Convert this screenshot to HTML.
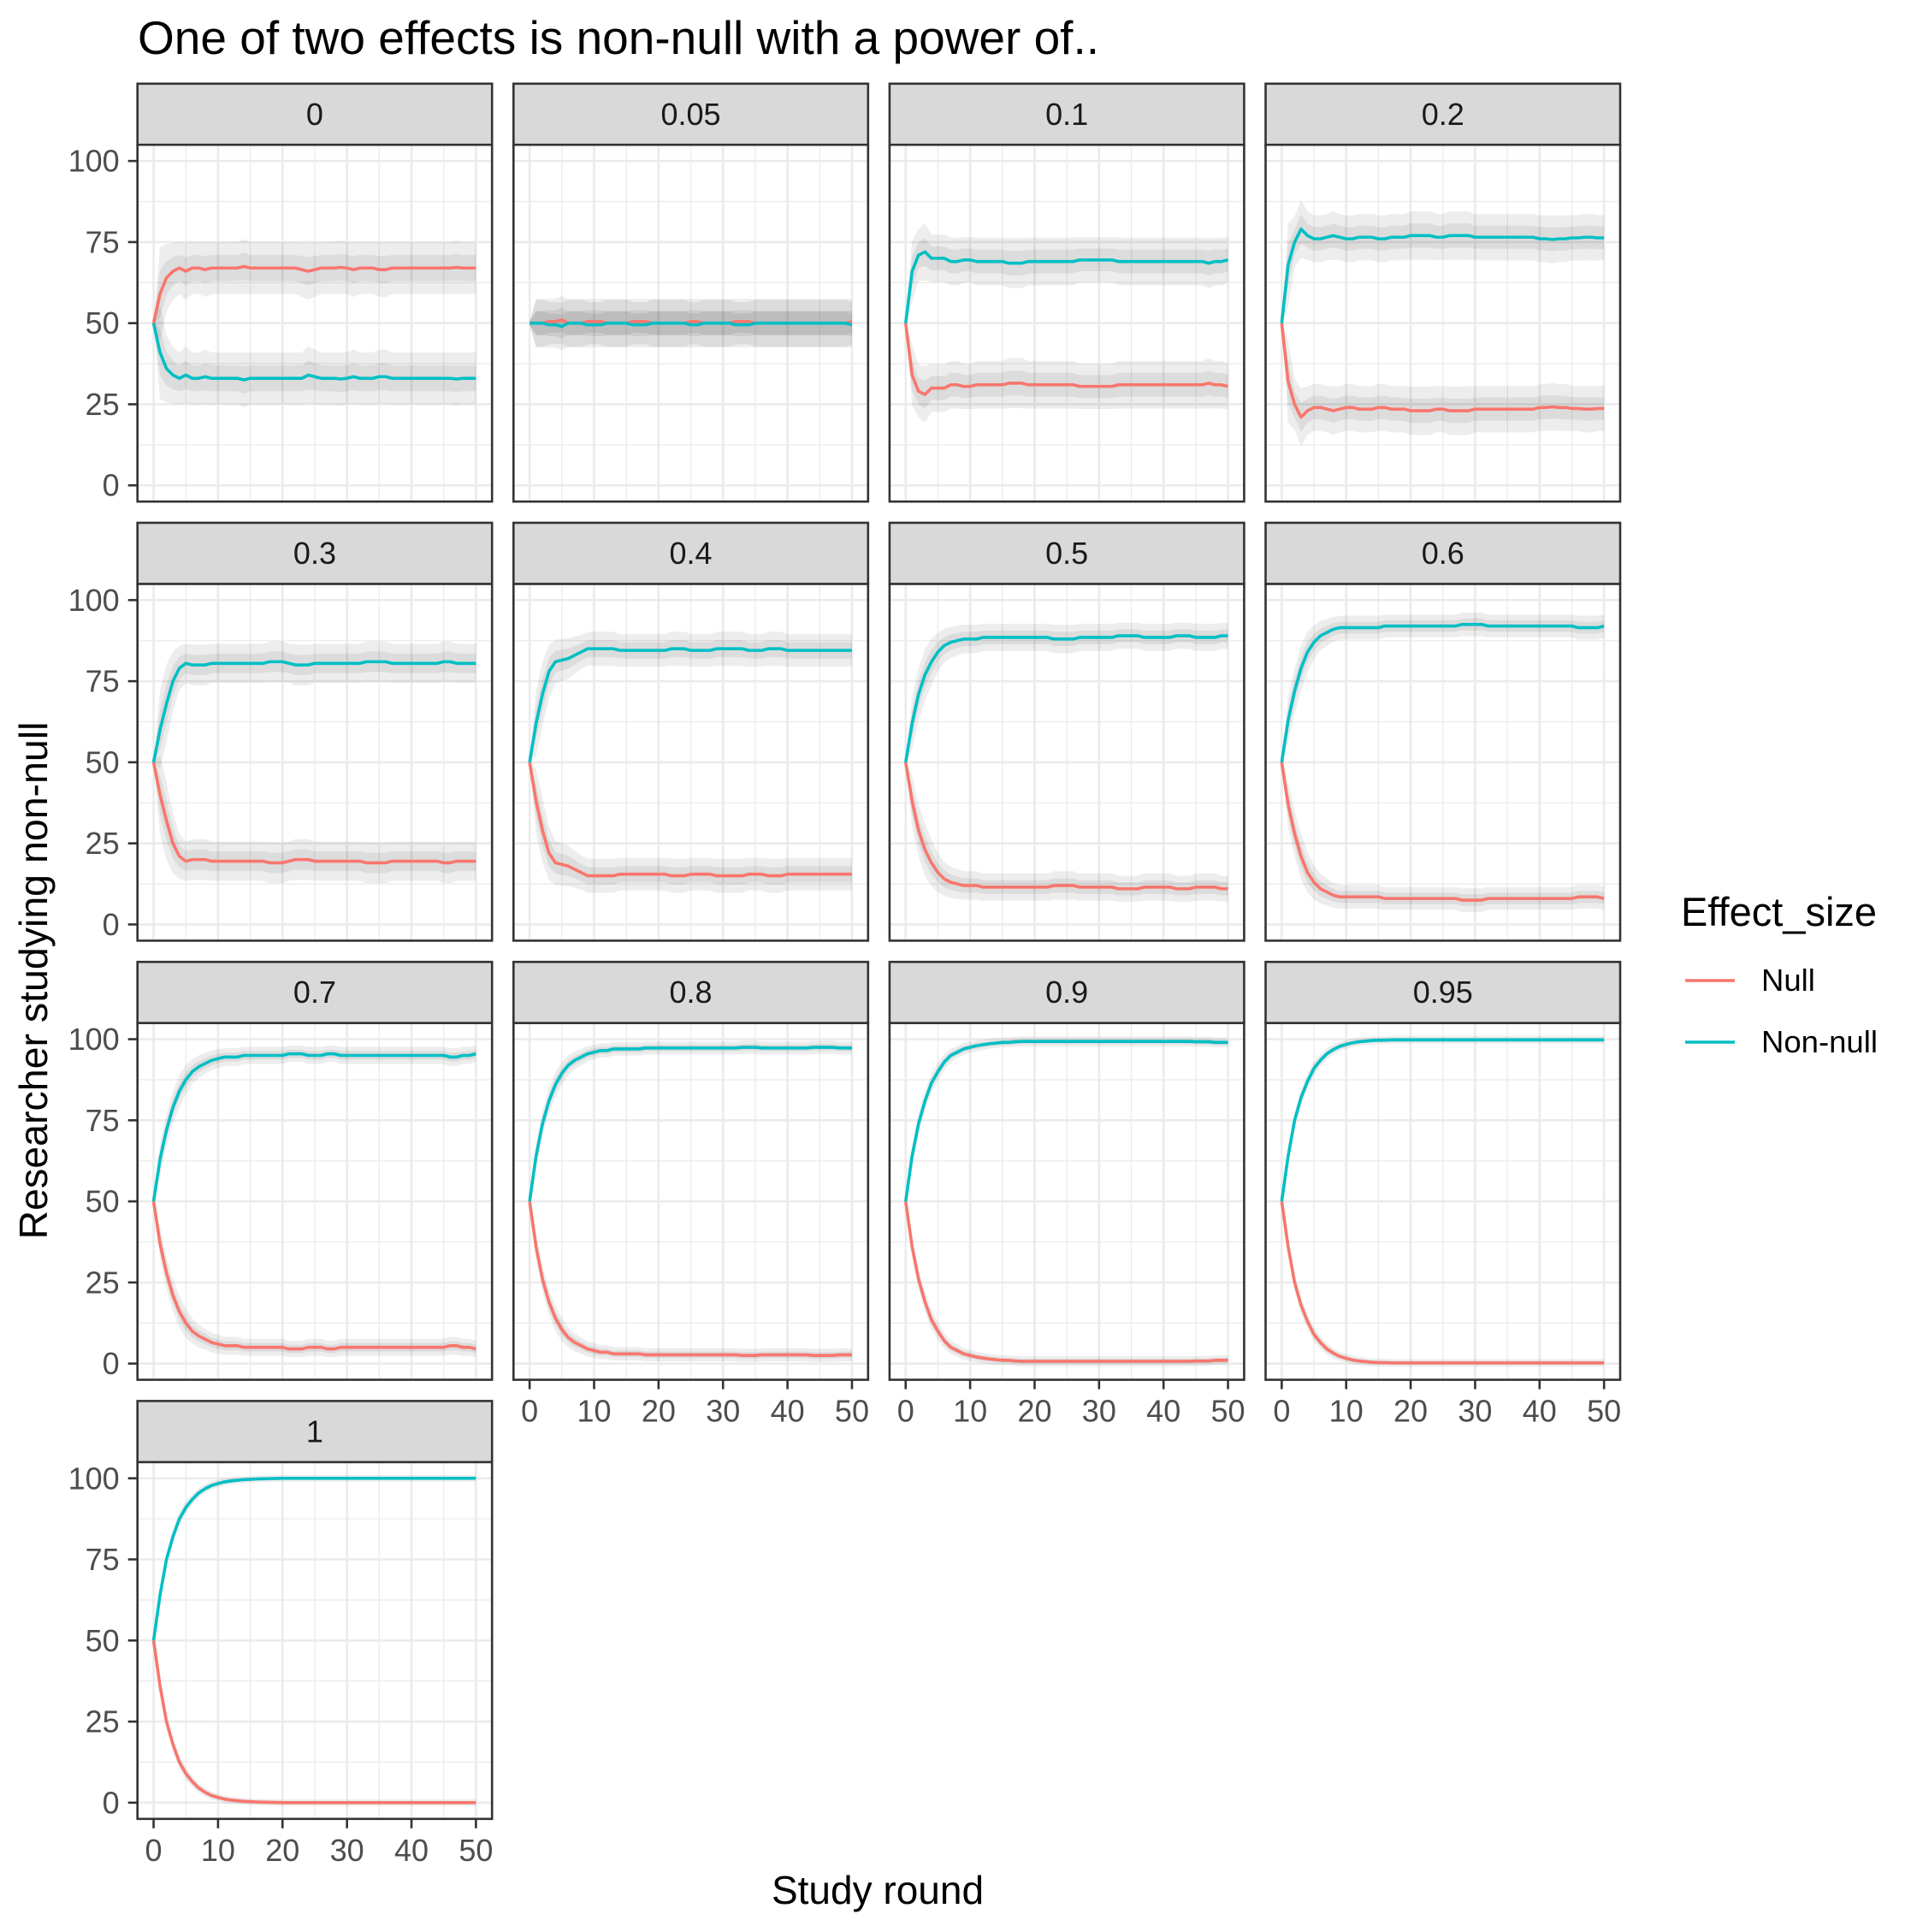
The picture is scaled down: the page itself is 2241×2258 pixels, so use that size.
<!DOCTYPE html>
<html><head><meta charset="utf-8"><style>
html,body{margin:0;padding:0;background:#fff;}
svg{display:block;font-family:"Liberation Sans",Arial,sans-serif;}
</style></head><body>
<svg id="chart" width="2241" height="2258" viewBox="0 0 2241 2258" xmlns="http://www.w3.org/2000/svg">
<rect width="2241" height="2258" fill="#fff"/>
<text x="161" y="63" font-size="55" fill="#000">One of two effects is non-null with a power of..</text>
<text x="1026" y="2225" font-size="46" fill="#000" text-anchor="middle">Study round</text>
<text transform="translate(55,1146) rotate(-90)" font-size="46.5" fill="#000" text-anchor="middle">Researcher studying non-null</text>
<g>
<text x="1965" y="1082" font-size="47" fill="#000">Effect_size</text>
<line x1="1970" x2="2028" y1="1146" y2="1146" stroke="#F8766D" stroke-width="3.5"/>
<text x="2059" y="1158" font-size="36.5" fill="#000">Null</text>
<line x1="1970" x2="2028" y1="1218" y2="1218" stroke="#00BFC4" stroke-width="3.5"/>
<text x="2059" y="1230" font-size="36.5" fill="#000">Non-null</text>
</g>
<g id="panels"></g>
</svg>
<script>
const panelLabels = ["0","0.05","0.1","0.2","0.3","0.4","0.5","0.6","0.7","0.8","0.9","0.95","1"];
const xTicks = [0,10,20,30,40,50];
const yTicks = [0,25,50,75,100];
const spread = [8,7,7,7,6,5,4,3.5,2.5,2,1.5,1.2,1];
const nonNull = [
[50,41,36,34,33,34,33,33,33.5,33,33,33,33,33,32.5,33,33,33,33,33,33,33,33,33,34,33.5,33,33,33,32.8,33,33.5,33,33,33,33.5,33.5,33,33,33,33,33,33,33,33,33,33,32.8,33,33,33],
[50,50,50,49.5,49.5,49,50,50,50,49.5,49.5,49.5,50,50,50,50,49.5,49.5,49.5,50,50,50,50,50,50,49.5,49.5,50,50,50,50,50,49.5,49.5,49.5,50,50,50,50,50,50,50,50,50,50,50,50,50,50,50,49.5],
[50,66,71,72,70,70,70,69,69,69.5,69.5,69,69,69,69,69,68.5,68.5,68.5,69,69,69,69,69,69,69,69,69.5,69.5,69.5,69.5,69.5,69.5,69,69,69,69,69,69,69,69,69,69,69,69,69,69,68.5,69,69,69.5],
[50,68,75,79,77,76,76,76.5,77,76.5,76,76,76.5,76.5,76.5,76,76,76.5,76.5,76.5,77,77,77,77,76.5,76.5,77,77,77,77,76.5,76.5,76.5,76.5,76.5,76.5,76.5,76.5,76.5,76.5,76,76,75.8,76,76,76.3,76.3,76.5,76.5,76.3,76.3],
[50,60,68,75,79,80.5,80,80,80,80.5,80.5,80.5,80.5,80.5,80.5,80.5,80.5,80.5,81,81,81,80.5,80,80,80,80.5,80.5,80.5,80.5,80.5,80.5,80.5,80.5,81,81,81,81,80.5,80.5,80.5,80.5,80.5,80.5,80.5,80.5,81,81,80.5,80.5,80.5,80.5],
[50,62,71,78,81,81.5,82,83,84,85,85,85,85,85,84.5,84.5,84.5,84.5,84.5,84.5,84.5,84.5,85,85,85,84.5,84.5,84.5,84.5,85,85,85,85,85,84.5,84.5,84.5,85,85,85,84.5,84.5,84.5,84.5,84.5,84.5,84.5,84.5,84.5,84.5,84.5],
[50,62,71,77,81,84,86,87,87.5,88,88,88,88.5,88.5,88.5,88.5,88.5,88.5,88.5,88.5,88.5,88.5,88.5,88,88,88,88,88.5,88.5,88.5,88.5,88.5,88.5,89,89,89,89,88.5,88.5,88.5,88.5,88.5,89,89,89,88.5,88.5,88.5,88.5,89,89],
[50,63,72,79,84,87,89,90,91,91.5,91.5,91.5,91.5,91.5,91.5,91.5,92,92,92,92,92,92,92,92,92,92,92,92,92.5,92.5,92.5,92.5,92,92,92,92,92,92,92,92,92,92,92,92,92,92,91.5,91.5,91.5,91.5,92],
[50,63,72,79,84,87.5,90,91.5,92.5,93.5,94,94.5,94.5,94.5,95,95,95,95,95,95,95,95.5,95.5,95.5,95,95,95,95.5,95.5,95,95,95,95,95,95,95,95,95,95,95,95,95,95,95,95,95,94.5,94.5,95,95,95.5],
[50,64,74,81,86,89.5,92,93.5,94.5,95.5,96,96.5,96.5,97,97,97,97,97,97.3,97.3,97.3,97.3,97.3,97.3,97.3,97.3,97.3,97.3,97.3,97.3,97.3,97.3,97.3,97.5,97.5,97.5,97.3,97.3,97.3,97.3,97.3,97.3,97.3,97.3,97.5,97.5,97.5,97.5,97.3,97.3,97.3],
[50,64,74,81,86.5,90,93,95,96,97,97.5,98,98.3,98.6,98.8,99,99,99.2,99.3,99.3,99.3,99.3,99.3,99.3,99.3,99.3,99.3,99.3,99.3,99.3,99.3,99.3,99.3,99.3,99.3,99.3,99.3,99.3,99.3,99.3,99.3,99.3,99.3,99.3,99.3,99.2,99.2,99.2,99,99,99],
[50,64,75,82,87,91,93.5,95.5,96.8,97.8,98.4,98.9,99.2,99.4,99.6,99.7,99.7,99.8,99.8,99.8,99.8,99.8,99.8,99.8,99.8,99.8,99.8,99.8,99.8,99.8,99.8,99.8,99.8,99.8,99.8,99.8,99.8,99.8,99.8,99.8,99.8,99.8,99.8,99.8,99.8,99.8,99.8,99.8,99.8,99.8,99.8],
[50,64,75,82,87.5,91,93.5,95.5,96.8,97.8,98.4,98.9,99.2,99.4,99.6,99.7,99.8,99.85,99.9,99.95,100,100,100,100,100,100,100,100,100,100,100,100,100,100,100,100,100,100,100,100,100,100,100,100,100,100,100,100,100,100,100]
];
const nullSeries = [
[50,59,64,66,67,66,67,67,66.5,67,67,67,67,67,67.5,67,67,67,67,67,67,67,67,66.5,66,66.5,67,67,67,67.2,67,66.5,67,67,67,66.5,66.5,67,67,67,67,67,67,67,67,67,67,67.2,67,67,67],
[50,50,50,50.5,50.5,51,50,50,50,50.5,50.5,50.5,50,50,50,50,50.5,50.5,50.5,50,50,50,50,50,50,50.5,50.5,50,50,50,50,50,50.5,50.5,50.5,50,50,50,50,50,50,50,50,50,50,50,50,50,50,50,50.5],
[50,34,29,28,30,30,30,31,31,30.5,30.5,31,31,31,31,31,31.5,31.5,31.5,31,31,31,31,31,31,31,31,30.5,30.5,30.5,30.5,30.5,30.5,31,31,31,31,31,31,31,31,31,31,31,31,31,31,31.5,31,31,30.5],
[50,32,25,21,23,24,24,23.5,23,23.5,24,24,23.5,23.5,23.5,24,24,23.5,23.5,23.5,23,23,23,23,23.5,23.5,23,23,23,23,23.5,23.5,23.5,23.5,23.5,23.5,23.5,23.5,23.5,23.5,24,24,24.2,24,24,23.7,23.7,23.5,23.5,23.7,23.7],
[50,40,32,25,21,19.5,20,20,20,19.5,19.5,19.5,19.5,19.5,19.5,19.5,19.5,19.5,19,19,19,19.5,20,20,20,19.5,19.5,19.5,19.5,19.5,19.5,19.5,19.5,19,19,19,19,19.5,19.5,19.5,19.5,19.5,19.5,19.5,19.5,19,19,19.5,19.5,19.5,19.5],
[50,38,29,22,19,18.5,18,17,16,15,15,15,15,15,15.5,15.5,15.5,15.5,15.5,15.5,15.5,15.5,15,15,15,15.5,15.5,15.5,15.5,15,15,15,15,15,15.5,15.5,15.5,15,15,15,15.5,15.5,15.5,15.5,15.5,15.5,15.5,15.5,15.5,15.5,15.5],
[50,38,29,23,19,16,14,13,12.5,12,12,12,11.5,11.5,11.5,11.5,11.5,11.5,11.5,11.5,11.5,11.5,11.5,12,12,12,12,11.5,11.5,11.5,11.5,11.5,11.5,11,11,11,11,11.5,11.5,11.5,11.5,11.5,11,11,11,11.5,11.5,11.5,11.5,11,11],
[50,37,28,21,16,13,11,10,9,8.5,8.5,8.5,8.5,8.5,8.5,8.5,8,8,8,8,8,8,8,8,8,8,8,8,7.5,7.5,7.5,7.5,8,8,8,8,8,8,8,8,8,8,8,8,8,8,8.5,8.5,8.5,8.5,8],
[50,37,28,21,16,12.5,10,8.5,7.5,6.5,6,5.5,5.5,5.5,5,5,5,5,5,5,5,4.5,4.5,4.5,5,5,5,4.5,4.5,5,5,5,5,5,5,5,5,5,5,5,5,5,5,5,5,5,5.5,5.5,5,5,4.5],
[50,36,26,19,14,10.5,8,6.5,5.5,4.5,4,3.5,3.5,3,3,3,3,3,2.7,2.7,2.7,2.7,2.7,2.7,2.7,2.7,2.7,2.7,2.7,2.7,2.7,2.7,2.7,2.5,2.5,2.5,2.7,2.7,2.7,2.7,2.7,2.7,2.7,2.7,2.5,2.5,2.5,2.5,2.7,2.7,2.7],
[50,36,26,19,13.5,10,7,5,4,3,2.5,2,1.7,1.4,1.2,1,1,0.8,0.7,0.7,0.7,0.7,0.7,0.7,0.7,0.7,0.7,0.7,0.7,0.7,0.7,0.7,0.7,0.7,0.7,0.7,0.7,0.7,0.7,0.7,0.7,0.7,0.7,0.7,0.7,0.8,0.8,0.8,1,1,1],
[50,36,25,18,13,9,6.5,4.5,3.2,2.2,1.6,1.1,0.8,0.6,0.4,0.3,0.3,0.2,0.2,0.2,0.2,0.2,0.2,0.2,0.2,0.2,0.2,0.2,0.2,0.2,0.2,0.2,0.2,0.2,0.2,0.2,0.2,0.2,0.2,0.2,0.2,0.2,0.2,0.2,0.2,0.2,0.2,0.2,0.2,0.2,0.2],
[50,36,25,18,12.5,9,6.5,4.5,3.2,2.2,1.6,1.1,0.8,0.6,0.4,0.3,0.2,0.15,0.1,0.05,0,0,0,0,0,0,0,0,0,0,0,0,0,0,0,0,0,0,0,0,0,0,0,0,0,0,0,0,0,0,0]
];

const NS = "http://www.w3.org/2000/svg";
const root = document.getElementById('panels');
const L0 = 160.7, CSTEP = 439.6, PW = 414.5, T0 = 97.8, RSTEP = 513.2, SH = 71.4, PH = 417;
function mk(tag, attrs, parent){ const e = document.createElementNS(NS, tag); for (const k in attrs) e.setAttribute(k, attrs[k]); parent.appendChild(e); return e; }

panelLabels.forEach((lab, i) => {
  const c = i % 4, r = Math.floor(i / 4);
  const left = L0 + c * CSTEP, stripTop = T0 + r * RSTEP, top = stripTop + SH, bottom = top + PH;
  const sx = v => left + (v + 2.5) / 55 * PW;
  const sy = v => bottom - (v + 5) / 110 * PH;
  const g = mk('g', {}, root);
  
  
  mk('rect', {x: left, y: top, width: PW, height: PH, fill: '#fff'}, g);
  [5,15,25,35,45].forEach(v => { mk('line', {x1: sx(v), x2: sx(v), y1: top, y2: bottom, stroke: '#EBEBEB', 'stroke-width': 1.3}, g); });
  [12.5,37.5,62.5,87.5].forEach(v => { mk('line', {x1: left, x2: left + PW, y1: sy(v), y2: sy(v), stroke: '#EBEBEB', 'stroke-width': 1.3}, g); });
  xTicks.forEach(v => { mk('line', {x1: sx(v), x2: sx(v), y1: top, y2: bottom, stroke: '#EBEBEB', 'stroke-width': 2.6}, g); });
  yTicks.forEach(v => { mk('line', {x1: left, x2: left + PW, y1: sy(v), y2: sy(v), stroke: '#EBEBEB', 'stroke-width': 2.6}, g); });
  const s = spread[i];
  [nonNull[i], nullSeries[i]].forEach((arr, k) => {
    [1, 0.5].forEach(f => {
      let up = [], dn = [];
      arr.forEach((v, x) => {
        const w = x === 0 ? 0.5 : s * f * (1 + Math.min(1, Math.abs(v - arr[arr.length - 1]) / 10));
        up.push(sx(x) + ',' + sy(Math.min(101, v + w)));
        dn.unshift(sx(x) + ',' + sy(Math.max(-1, v - w)));
      });
      const p = mk('polygon', {points: up.concat(dn).join(' '), fill: '#000', 'fill-opacity': 0.07}, g);
      
      
    });
  });
  [[nullSeries[i], '#F8766D', 'null-line-'], [nonNull[i], '#00BFC4', 'non-null-line-']].forEach(([arr, col, nm]) => {
    const pl = mk('polyline', {points: arr.map((v, x) => sx(x) + ',' + sy(v)).join(' '), fill: 'none', stroke: col, 'stroke-width': 3.6, 'stroke-linejoin': 'round'}, g);
    
    
  });
  mk('rect', {x: left, y: top, width: PW, height: PH, fill: 'none', stroke: '#333', 'stroke-width': 2.6}, g);
  const st = mk('rect', {x: left, y: stripTop, width: PW, height: SH, fill: '#D9D9D9', stroke: '#333', 'stroke-width': 2.6}, g);
  
  
  const stt = mk('text', {x: left + PW / 2, y: stripTop + 48, 'font-size': 36, fill: '#1A1A1A', 'text-anchor': 'middle'}, g);
  stt.textContent = lab;
  
  
  if (c === 0) {
    yTicks.forEach(v => {
      mk('line', {x1: left - 11, x2: left, y1: sy(v), y2: sy(v), stroke: '#333', 'stroke-width': 2.6}, g);
      const t = mk('text', {x: left - 21, y: sy(v) + 12.5, 'font-size': 36, fill: '#4D4D4D', 'text-anchor': 'end'}, g);
      t.textContent = v;
      
      
    });
  }
  if (i >= 9) {
    xTicks.forEach(v => {
      mk('line', {x1: sx(v), x2: sx(v), y1: bottom, y2: bottom + 11, stroke: '#333', 'stroke-width': 2.6}, g);
      const t = mk('text', {x: sx(v), y: bottom + 49, 'font-size': 36, fill: '#4D4D4D', 'text-anchor': 'middle'}, g);
      t.textContent = v;
      
      
    });
  }
});
</script>
</body></html>
